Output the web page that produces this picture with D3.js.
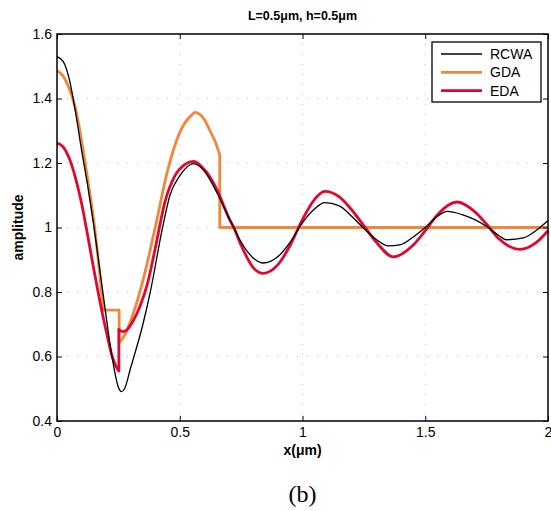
<!DOCTYPE html>
<html>
<head>
<meta charset="utf-8">
<script src="https://cdn.jsdelivr.net/npm/d3@7"></script>
<style>
  html, body { margin: 0; padding: 0; background: #fff; }
  svg { display: block; font-family: "Liberation Sans", Arial, Helvetica, sans-serif; }
</style>
</head>
<body>
<svg id="chart" width="551" height="511"></svg>
<script>
// ---------------- data ----------------
const titleText = "L=0.5\u03bcm, h=0.5\u03bcm";
const xLabelText = "x(\u03bcm)";
const yLabelText = "amplitude";
const captionText = "(b)";
const seriesNames = ["RCWA", "GDA", "EDA"];
const xTicks = [0, 0.5, 1, 1.5, 2];
const xTickLabels = ["0", "0.5", "1", "1.5", "2"];
const yTicks = [0.4, 0.6, 0.8, 1.0, 1.2, 1.4, 1.6];
const yTickLabels = ["0.4", "0.6", "0.8", "1", "1.2", "1.4", "1.6"];

// RCWA (continuous)
const rcwaX = [0, 0.025, 0.05, 0.075, 0.1, 0.125, 0.15, 0.175, 0.2, 0.225, 0.25, 0.263, 0.275, 0.3, 0.35, 0.38, 0.43, 0.46, 0.5, 0.556, 0.6, 0.65, 0.7, 0.72, 0.75, 0.8, 0.84, 0.9, 0.95, 1.0, 1.05, 1.09, 1.15, 1.2, 1.25, 1.3, 1.35, 1.4, 1.45, 1.5, 1.55, 1.59, 1.65, 1.7, 1.75, 1.8, 1.83, 1.9, 1.95, 2.0];
const rcwaY = [1.53, 1.515, 1.46, 1.36, 1.24, 1.13, 1.005, 0.865, 0.725, 0.595, 0.505, 0.491, 0.5, 0.565, 0.7, 0.8, 1.0, 1.1, 1.16, 1.198, 1.175, 1.11, 1.03, 1.0, 0.955, 0.905, 0.89, 0.91, 0.955, 1.015, 1.058, 1.077, 1.067, 1.035, 0.997, 0.963, 0.943, 0.947, 0.97, 1.0, 1.035, 1.05, 1.04, 1.025, 1.003, 0.975, 0.962, 0.968, 0.99, 1.022];

// GDA (piecewise)
const gdaX1 = [0, 0.025, 0.05, 0.075, 0.1, 0.125, 0.15, 0.175, 0.189];
const gdaY1 = [1.486, 1.47, 1.43, 1.37, 1.27, 1.15, 1.02, 0.85, 0.744];
const gdaX2 = [0.189, 0.253];
const gdaY2 = [0.744, 0.744];
const gdaX3 = [0.253, 0.275, 0.3, 0.35, 0.4, 0.45, 0.5, 0.55, 0.562, 0.6, 0.623, 0.645, 0.663];
const gdaY3 = [0.643, 0.665, 0.71, 0.835, 1.0, 1.175, 1.295, 1.35, 1.357, 1.335, 1.3, 1.265, 1.225];
const gdaX4 = [0.663, 2.0];
const gdaY4 = [1.0, 1.0];

// EDA (piecewise)
const edaX1 = [0, 0.025, 0.05, 0.075, 0.1, 0.125, 0.15, 0.175, 0.2, 0.225, 0.24, 0.252];
const edaY1 = [1.262, 1.25, 1.215, 1.155, 1.075, 0.975, 0.87, 0.77, 0.68, 0.6, 0.57, 0.555];
const edaX2 = [0.252, 0.265, 0.28, 0.31, 0.34, 0.37, 0.4, 0.44, 0.48, 0.52, 0.557, 0.6, 0.65, 0.7, 0.72, 0.75, 0.8, 0.84, 0.9, 0.95, 1.0, 1.05, 1.09, 1.15, 1.2, 1.25, 1.3, 1.37, 1.45, 1.5, 1.55, 1.63, 1.7, 1.75, 1.8, 1.886, 1.95, 2.0];
const edaY2 = [0.684, 0.677, 0.68, 0.71, 0.76, 0.83, 0.935, 1.08, 1.16, 1.195, 1.205, 1.18, 1.12, 1.03, 1.0, 0.945, 0.875, 0.858, 0.885, 0.945, 1.025, 1.088, 1.112, 1.095, 1.055, 1.005, 0.955, 0.909, 0.945, 0.99, 1.04, 1.079, 1.05, 1.01, 0.965, 0.932, 0.952, 0.99];

// ---------------- layout ----------------
const colors = { RCWA: "#000000", GDA: "#f0873a", EDA: "#dc0a2e" };
const widths = { RCWA: 1.3, GDA: 2.8, EDA: 2.8 };
const L = 57, R = 548, T = 34, B = 421;

const svg = d3.select("#chart");
const x = d3.scaleLinear().domain([0, 2]).range([L, R]);
const y = d3.scaleLinear().domain([0.4, 1.6]).range([B, T]);

// grid
const grid = svg.append("g");
grid.selectAll("line.gx").data(xTicks.slice(1, -1)).enter().append("line")
  .attr("x1", d => x(d)).attr("x2", d => x(d)).attr("y1", T).attr("y2", B)
  .attr("stroke", "#b8b8b8").attr("stroke-width", 1).attr("stroke-dasharray", "1,9");
grid.selectAll("line.gy").data(yTicks.slice(1, -1)).enter().append("line")
  .attr("y1", d => y(d)).attr("y2", d => y(d)).attr("x1", L).attr("x2", R)
  .attr("stroke", "#b8b8b8").attr("stroke-width", 1).attr("stroke-dasharray", "1,9");

// series
const zip = (xs, ys) => xs.map((v, i) => [v, ys[i]]);
const line = d3.line().x(d => x(d[0])).y(d => y(d[1])).curve(d3.curveMonotoneX);
const joinPath = segs => segs.map((s, i) => {
  const d = line(s);
  return i === 0 ? d : "L" + d.slice(1);
}).join("");

const plot = svg.append("g");
plot.append("path")
  .attr("d", joinPath([zip(gdaX1, gdaY1), zip(gdaX2, gdaY2), zip(gdaX3, gdaY3), zip(gdaX4, gdaY4)]))
  .attr("fill", "none").attr("stroke", colors.GDA).attr("stroke-width", widths.GDA).attr("stroke-linejoin", "round");
plot.append("path")
  .attr("d", joinPath([zip(edaX1, edaY1), zip(edaX2, edaY2)]))
  .attr("fill", "none").attr("stroke", colors.EDA).attr("stroke-width", widths.EDA).attr("stroke-linejoin", "round");
plot.append("path")
  .attr("d", line(zip(rcwaX, rcwaY)))
  .attr("fill", "none").attr("stroke", colors.RCWA).attr("stroke-width", widths.RCWA);

// axes
const fmtX = d => xTickLabels[xTicks.indexOf(d)];
const fmtY = d => yTickLabels[yTicks.indexOf(d)];
const ax = svg.append("g").attr("transform", `translate(0,${B})`)
  .call(d3.axisBottom(x).tickValues(xTicks).tickFormat(fmtX).tickSize(-5).tickPadding(6));
const ay = svg.append("g").attr("transform", `translate(${L},0)`)
  .call(d3.axisLeft(y).tickValues(yTicks).tickFormat(fmtY).tickSize(-5).tickPadding(5));
const at = svg.append("g").attr("transform", `translate(0,${T})`)
  .call(d3.axisTop(x).tickValues(xTicks).tickFormat("").tickSize(-5));
const ar = svg.append("g").attr("transform", `translate(${R},0)`)
  .call(d3.axisRight(y).tickValues(yTicks).tickFormat("").tickSize(-5));
[ax, ay, at, ar].forEach(g => {
  g.select(".domain").remove();
  g.selectAll(".tick line").attr("stroke", "#000").attr("stroke-width", 1);
  g.selectAll(".tick text").attr("fill", "#000").attr("font-size", 14)
    .attr("font-family", '"Liberation Sans", Arial, Helvetica, sans-serif');
});

// frame
svg.append("rect").attr("x", L).attr("y", T).attr("width", R - L).attr("height", B - T)
  .attr("fill", "none").attr("stroke", "#000").attr("stroke-width", 1.5);

// legend
const lg = svg.append("g");
lg.append("rect").attr("x", 432).attr("y", 42).attr("width", 109).attr("height", 60)
  .attr("fill", "#fff").attr("stroke", "#000").attr("stroke-width", 1.3);
const legRows = [54, 72.3, 90.7];
seriesNames.forEach((name, i) => {
  lg.append("line").attr("x1", 441).attr("x2", 482).attr("y1", legRows[i]).attr("y2", legRows[i])
    .attr("stroke", colors[name]).attr("stroke-width", widths[name]);
  lg.append("text").attr("x", 490).attr("y", legRows[i] + 5).attr("font-size", 14).attr("fill", "#000").text(name);
});

// texts
svg.append("text").attr("x", (L + R) / 2).attr("y", 20).attr("text-anchor", "middle")
  .attr("font-size", 12.5).attr("font-weight", "bold").text(titleText);
svg.append("text").attr("x", (L + R) / 2).attr("y", 455).attr("text-anchor", "middle")
  .attr("font-size", 14).attr("font-weight", "bold").text(xLabelText);
svg.append("text").attr("transform", `translate(23,${y(1.0)}) rotate(-90)`).attr("text-anchor", "middle")
  .attr("font-size", 14).attr("font-weight", "bold").text(yLabelText);
svg.append("text").attr("x", (L + R) / 2).attr("y", 502).attr("text-anchor", "middle")
  .attr("font-size", 24).attr("font-family", '"Liberation Serif", "Times New Roman", serif').text(captionText);
</script>
</body>
</html>
